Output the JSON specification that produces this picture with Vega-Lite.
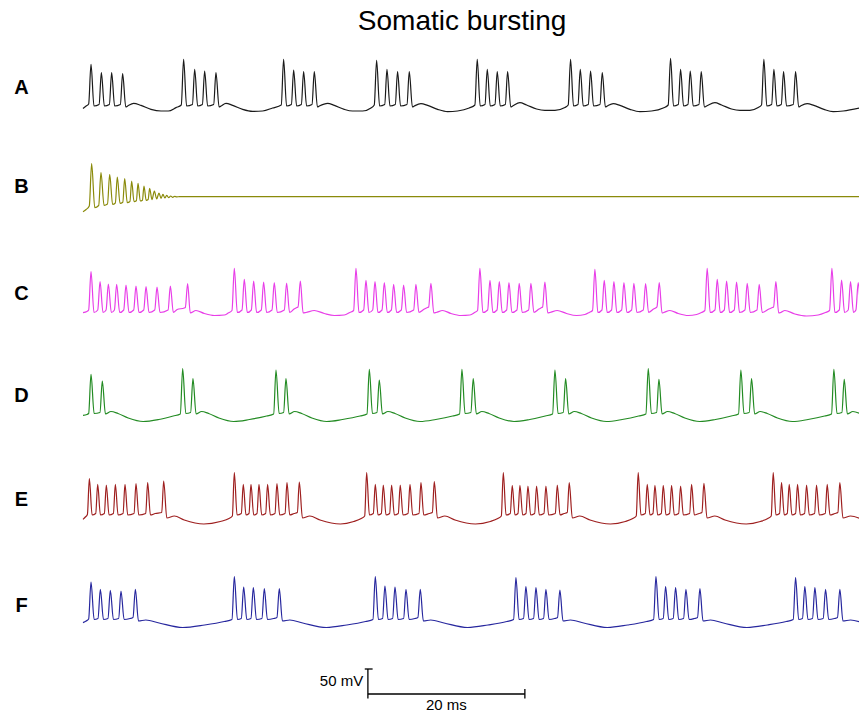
{
"$schema": "https://vega.github.io/schema/vega-lite/v6.json",
"background": "white",
"padding": {"left": 13, "top": 7, "right": 0, "bottom": 0},
"bounds": "flush",
"title": {"text": "Somatic bursting", "fontSize": 28, "font": "Liberation Sans", "fontWeight": "normal", "color": "#000", "anchor": "middle", "dx": 24, "offset": 20},
"config": {
  "view": {"stroke": null},
  "line": {"interpolate": "monotone", "strokeWidth": 1.2},
  "axisY": {"labels": false, "ticks": false, "domain": false, "grid": false, "titleAngle": 0, "titleFontSize": 20, "titleFontWeight": "bold", "titleFont": "Liberation Sans", "titleX": -62, "titleY": 30, "titleAlign": "center", "titleBaseline": "middle", "titleColor": "#000"}
},
"spacing": 43,
"datasets": {
"A": [
{"t":0,"v":-65},{"t":0.4,"v":-60},{"t":0.72,"v":-56},
{"t":1.02,"v":23.3},{"t":1.4,"v":-60},{"t":2.05,"v":-57},{"t":2.34,"v":6.7},{"t":2.72,"v":-60},{"t":3.36,"v":-57},{"t":3.65,"v":6.7},{"t":4.03,"v":-60},{"t":4.76,"v":-57},{"t":5.05,"v":4.7},{"t":5.45,"v":-62},
{"t":5.69,"v":-60},{"t":6.45,"v":-54.7},{"t":7.39,"v":-58.7},{"t":8.66,"v":-66.7},{"t":9.94,"v":-70},{"t":10.87,"v":-70},{"t":11.85,"v":-63.3},{"t":12.52,"v":-58},
{"t":12.82,"v":33.3},{"t":13.2,"v":-60},{"t":13.94,"v":-57},{"t":14.23,"v":13.3},{"t":14.61,"v":-60},{"t":15.21,"v":-57},{"t":15.5,"v":10},{"t":15.88,"v":-60},{"t":16.65,"v":-57},{"t":16.94,"v":6.7},{"t":17.34,"v":-62},
{"t":17.58,"v":-60},{"t":18.22,"v":-54.7},{"t":19.07,"v":-58.7},{"t":20.34,"v":-66.7},{"t":21.61,"v":-70.7},{"t":22.89,"v":-70},{"t":24.16,"v":-64},{"t":25.26,"v":-58},
{"t":25.56,"v":33.3},{"t":25.94,"v":-60},{"t":26.55,"v":-57},{"t":26.84,"v":12},{"t":27.22,"v":-60},{"t":27.82,"v":-57},{"t":28.11,"v":8.7},{"t":28.49,"v":-60},{"t":29.18,"v":-57},{"t":29.47,"v":8.7},{"t":29.87,"v":-62},
{"t":30.11,"v":-60},{"t":31.17,"v":-54.7},{"t":32.02,"v":-58.7},{"t":33.29,"v":-66.7},{"t":34.35,"v":-70},{"t":35.63,"v":-70},{"t":36.69,"v":-64},{"t":37.11,"v":-58},
{"t":37.41,"v":31.3},{"t":37.79,"v":-60},{"t":38.44,"v":-57},{"t":38.73,"v":13.3},{"t":39.11,"v":-60},{"t":39.79,"v":-57},{"t":40.08,"v":8.7},{"t":40.46,"v":-60},{"t":41.28,"v":-57},{"t":41.57,"v":8.7},{"t":41.97,"v":-62},
{"t":42.21,"v":-60},{"t":43.06,"v":-55.3},{"t":43.91,"v":-58.7},{"t":45.18,"v":-66.7},{"t":46.45,"v":-71.3},{"t":47.73,"v":-70},{"t":49.21,"v":-64},{"t":49.93,"v":-58},
{"t":50.23,"v":33.3},{"t":50.61,"v":-60},{"t":51.22,"v":-57},{"t":51.51,"v":13.3},{"t":51.89,"v":-60},{"t":52.49,"v":-57},{"t":52.78,"v":8.7},{"t":53.16,"v":-60},{"t":53.81,"v":-57},{"t":54.1,"v":8.7},{"t":54.5,"v":-62},
{"t":54.74,"v":-60},{"t":55.67,"v":-53.3},{"t":56.52,"v":-58},{"t":57.79,"v":-66},{"t":58.85,"v":-68.7},{"t":60.13,"v":-68.7},{"t":61.4,"v":-63},{"t":61.82,"v":-58},
{"t":62.12,"v":33.3},{"t":62.5,"v":-60},{"t":63.07,"v":-57},{"t":63.36,"v":13.3},{"t":63.74,"v":-60},{"t":64.38,"v":-57},{"t":64.67,"v":10},{"t":65.05,"v":-60},{"t":65.87,"v":-57},{"t":66.16,"v":6.7},{"t":66.56,"v":-62},
{"t":66.8,"v":-60},{"t":67.56,"v":-55.3},{"t":68.41,"v":-58.7},{"t":69.68,"v":-66.7},{"t":70.96,"v":-71.3},{"t":72.44,"v":-70},{"t":73.93,"v":-64},{"t":74.56,"v":-58},
{"t":74.86,"v":35.3},{"t":75.24,"v":-60},{"t":75.85,"v":-57},{"t":76.14,"v":13.3},{"t":76.52,"v":-60},{"t":77.08,"v":-57},{"t":77.37,"v":10},{"t":77.75,"v":-60},{"t":78.48,"v":-57},{"t":78.77,"v":8.7},{"t":79.17,"v":-62},
{"t":79.45,"v":-60},{"t":80.51,"v":-53.3},{"t":81.36,"v":-58},{"t":82.63,"v":-66},{"t":83.7,"v":-68.7},{"t":84.97,"v":-68.7},{"t":86.03,"v":-63},{"t":86.45,"v":-58},
{"t":86.75,"v":33.3},{"t":87.13,"v":-60},{"t":87.74,"v":-57},{"t":88.03,"v":13.3},{"t":88.41,"v":-60},{"t":88.97,"v":-57},{"t":89.26,"v":8.7},{"t":89.64,"v":-60},{"t":90.5,"v":-57},{"t":90.79,"v":8.7},{"t":91.19,"v":-62},
{"t":91.42,"v":-60},{"t":92.27,"v":-55.3},{"t":93.12,"v":-58.7},{"t":94.4,"v":-66.7},{"t":95.58,"v":-71.3},{"t":96.86,"v":-70},{"t":99,"v":-64}
],
"B": [
{"t":0,"v":-65.3},{"t":0.4,"v":-61},{"t":0.8,"v":-54},{"t":1.1,"v":30.7},{"t":1.5,"v":-57.3},{"t":2.0,"v":-53},{"t":2.29,"v":12.7},{"t":2.68,"v":-52.7},{"t":3.12,"v":-50},{"t":3.4,"v":9.3},{"t":3.77,"v":-50.7},{"t":4.12,"v":-48},{"t":4.37,"v":4},{"t":4.72,"v":-48.7},{"t":5.07,"v":-46.5},{"t":5.31,"v":0.7},{"t":5.64,"v":-47.3},{"t":5.98,"v":-45},{"t":6.2,"v":-4},{"t":6.5,"v":-45.3},{"t":6.8,"v":-43.5},{"t":7.01,"v":-8.7},{"t":7.3,"v":-44},{"t":7.57,"v":-42.5},{"t":7.77,"v":-14},{"t":8.05,"v":-42.7},{"t":8.3,"v":-41},{"t":8.49,"v":-18.7},{"t":8.79,"v":-41.3},{"t":9.09,"v":-24},{"t":9.39,"v":-40},{"t":9.68,"v":-28},{"t":9.94,"v":-38.7},{"t":10.19,"v":-30.7},{"t":10.43,"v":-38},{"t":10.66,"v":-32.7},{"t":10.92,"v":-37.3},{"t":11.17,"v":-34},{"t":11.43,"v":-36.7},{"t":11.68,"v":-34.7},{"t":11.95,"v":-35.8},{"t":12.3,"v":-35.3},{"t":99,"v":-35.3}
],
"C": [
{"t":0,"v":-61.3},{"t":0.5,"v":-59},{"t":0.72,"v":-56},
{"t":1.02,"v":20.7},{"t":1.4,"v":-61},{"t":1.88,"v":-56},{"t":2.17,"v":0.7},{"t":2.55,"v":-61},{"t":2.94,"v":-56},{"t":3.23,"v":-4},{"t":3.61,"v":-61},{"t":4.0,"v":-56},{"t":4.29,"v":-4.7},{"t":4.67,"v":-61},{"t":5.19,"v":-56},{"t":5.48,"v":-6},{"t":5.86,"v":-61},{"t":6.46,"v":-56},{"t":6.75,"v":-8},{"t":7.13,"v":-61},{"t":7.74,"v":-56},{"t":8.03,"v":-9.3},{"t":8.41,"v":-61},{"t":9.14,"v":-56},{"t":9.43,"v":-10},{"t":9.81,"v":-61},{"t":10.84,"v":-56},{"t":11.13,"v":-8},{"t":11.51,"v":-61},{"t":12.0,"v":-55},{"t":12.9,"v":-52},{"t":13.04,"v":-51},{"t":13.33,"v":-3.3},{"t":13.67,"v":-62},
{"t":14.39,"v":-57},{"t":15.46,"v":-63},{"t":16.73,"v":-67},{"t":18.0,"v":-66},{"t":18.5,"v":-62},{"t":18.98,"v":-57},
{"t":19.28,"v":27.3},{"t":19.66,"v":-61},{"t":20.26,"v":-56},{"t":20.55,"v":5.3},{"t":20.93,"v":-61},{"t":21.45,"v":-56},{"t":21.74,"v":2},{"t":22.12,"v":-61},{"t":22.72,"v":-56},{"t":23.01,"v":0},{"t":23.39,"v":-61},{"t":24.08,"v":-56},{"t":24.37,"v":-1.3},{"t":24.75,"v":-61},{"t":25.65,"v":-56},{"t":25.94,"v":-2},{"t":26.32,"v":-61},{"t":26.9,"v":-54},{"t":27.25,"v":-51},{"t":27.4,"v":-50},{"t":27.69,"v":2},{"t":28.05,"v":-62},
{"t":28.41,"v":-61},{"t":29.47,"v":-57},{"t":30.74,"v":-63},{"t":32.02,"v":-67},{"t":33.29,"v":-66},{"t":34.0,"v":-61},{"t":34.48,"v":-57},
{"t":34.78,"v":27.3},{"t":35.16,"v":-61},{"t":35.76,"v":-56},{"t":36.05,"v":3.3},{"t":36.43,"v":-61},{"t":36.91,"v":-56},{"t":37.2,"v":0.7},{"t":37.58,"v":-61},{"t":38.1,"v":-56},{"t":38.39,"v":-1.3},{"t":38.77,"v":-61},{"t":39.29,"v":-56},{"t":39.58,"v":-4.7},{"t":39.96,"v":-61},{"t":40.56,"v":-56},{"t":40.85,"v":-6},{"t":41.23,"v":-61},{"t":42.13,"v":-56},{"t":42.42,"v":-4.7},{"t":42.8,"v":-61},{"t":43.5,"v":-54},{"t":43.9,"v":-51},{"t":44.04,"v":-50},{"t":44.33,"v":-2.7},{"t":44.7,"v":-62},
{"t":45.0,"v":-61},{"t":45.82,"v":-57},{"t":46.88,"v":-63},{"t":48.15,"v":-67},{"t":49.3,"v":-66},{"t":49.9,"v":-61},{"t":50.27,"v":-57},
{"t":50.57,"v":27.3},{"t":50.95,"v":-61},{"t":51.56,"v":-56},{"t":51.85,"v":3.3},{"t":52.23,"v":-61},{"t":52.75,"v":-56},{"t":53.04,"v":0.7},{"t":53.42,"v":-61},{"t":53.98,"v":-56},{"t":54.27,"v":-1.3},{"t":54.65,"v":-61},{"t":55.29,"v":-56},{"t":55.58,"v":-2.7},{"t":55.96,"v":-61},{"t":56.78,"v":-56},{"t":57.07,"v":-2.7},{"t":57.45,"v":-61},{"t":58.1,"v":-54},{"t":58.45,"v":-51},{"t":58.56,"v":-50},{"t":58.85,"v":0},{"t":59.22,"v":-62},
{"t":59.5,"v":-61},{"t":60.43,"v":-57},{"t":61.61,"v":-63},{"t":62.89,"v":-67},{"t":63.95,"v":-65},{"t":64.5,"v":-61},{"t":64.92,"v":-57},
{"t":65.22,"v":25.3},{"t":65.6,"v":-61},{"t":66.12,"v":-56},{"t":66.41,"v":3.3},{"t":66.79,"v":-61},{"t":67.35,"v":-56},{"t":67.64,"v":0.7},{"t":68.02,"v":-61},{"t":68.63,"v":-56},{"t":68.92,"v":-1.3},{"t":69.3,"v":-61},{"t":69.9,"v":-56},{"t":70.19,"v":-2.7},{"t":70.57,"v":-61},{"t":71.39,"v":-56},{"t":71.68,"v":-3.3},{"t":72.06,"v":-61},{"t":72.7,"v":-54},{"t":73.05,"v":-51},{"t":73.13,"v":-50},{"t":73.42,"v":-1.3},{"t":73.78,"v":-62},
{"t":74.0,"v":-61},{"t":74.78,"v":-57},{"t":75.84,"v":-63},{"t":77.11,"v":-67},{"t":78.18,"v":-65},{"t":78.8,"v":-61},{"t":79.23,"v":-57},
{"t":79.53,"v":27.3},{"t":79.91,"v":-61},{"t":80.52,"v":-56},{"t":80.81,"v":5.3},{"t":81.19,"v":-61},{"t":81.71,"v":-56},{"t":82.0,"v":2},{"t":82.38,"v":-61},{"t":82.98,"v":-56},{"t":83.27,"v":0},{"t":83.65,"v":-61},{"t":84.34,"v":-56},{"t":84.63,"v":-2.7},{"t":85.01,"v":-61},{"t":85.87,"v":-56},{"t":86.16,"v":-4.7},{"t":86.54,"v":-61},{"t":87.4,"v":-54},{"t":87.85,"v":-51},{"t":87.99,"v":-50},{"t":88.28,"v":0.7},{"t":88.64,"v":-62},
{"t":88.9,"v":-61},{"t":89.43,"v":-57},{"t":90.7,"v":-64},{"t":92.19,"v":-68},{"t":93.67,"v":-66},{"t":94.6,"v":-61},{"t":95.12,"v":-57},
{"t":95.42,"v":27.3},{"t":95.8,"v":-61},{"t":96.36,"v":-56},{"t":96.65,"v":4},{"t":97.03,"v":-61},{"t":97.5,"v":-56},{"t":97.79,"v":0.7},{"t":98.17,"v":-61},{"t":98.48,"v":-56},{"t":98.77,"v":-1.3},{"t":99,"v":-40}
],
"D": [
{"t":0,"v":-60.7},{"t":0.5,"v":-59},{"t":0.72,"v":-57},
{"t":1.02,"v":21.3},{"t":1.42,"v":-57},{"t":2.16,"v":-55},{"t":2.46,"v":8},{"t":2.86,"v":-58},{"t":3.56,"v":-53},{"t":4.46,"v":-57},{"t":5.76,"v":-66},{"t":7.66,"v":-73},{"t":9.66,"v":-69},{"t":11.5,"v":-62},{"t":12.4,"v":-58},
{"t":12.7,"v":32.7},{"t":13.1,"v":-57},{"t":13.71,"v":-55},{"t":14.01,"v":12.7},{"t":14.41,"v":-58},{"t":15.11,"v":-53},{"t":16.01,"v":-57},{"t":17.31,"v":-66},{"t":19.21,"v":-73},{"t":21.21,"v":-69},{"t":23.4,"v":-62},{"t":24.29,"v":-58},
{"t":24.59,"v":30},{"t":24.99,"v":-57},{"t":25.56,"v":-55},{"t":25.86,"v":12.7},{"t":26.26,"v":-58},{"t":26.96,"v":-53},{"t":27.86,"v":-57},{"t":29.16,"v":-66},{"t":31.06,"v":-73},{"t":33.06,"v":-69},{"t":35.3,"v":-62},{"t":36.18,"v":-58},
{"t":36.48,"v":31.3},{"t":36.88,"v":-57},{"t":37.45,"v":-55},{"t":37.75,"v":10},{"t":38.15,"v":-58},{"t":38.85,"v":-53},{"t":39.75,"v":-57},{"t":41.05,"v":-66},{"t":42.95,"v":-73},{"t":44.95,"v":-69},{"t":47.1,"v":-62},{"t":47.98,"v":-58},
{"t":48.28,"v":31.3},{"t":48.68,"v":-57},{"t":49.42,"v":-55},{"t":49.72,"v":12.7},{"t":50.12,"v":-58},{"t":50.82,"v":-53},{"t":51.72,"v":-57},{"t":53.02,"v":-66},{"t":54.92,"v":-73},{"t":56.92,"v":-69},{"t":58.9,"v":-62},{"t":59.83,"v":-58},
{"t":60.13,"v":30},{"t":60.53,"v":-57},{"t":61.19,"v":-55},{"t":61.49,"v":12.7},{"t":61.89,"v":-58},{"t":62.59,"v":-53},{"t":63.49,"v":-57},{"t":64.79,"v":-66},{"t":66.69,"v":-73},{"t":68.69,"v":-69},{"t":70.8,"v":-62},{"t":71.72,"v":-58},
{"t":72.02,"v":32.7},{"t":72.42,"v":-57},{"t":73.08,"v":-55},{"t":73.38,"v":11.3},{"t":73.78,"v":-58},{"t":74.48,"v":-53},{"t":75.38,"v":-57},{"t":76.68,"v":-66},{"t":78.58,"v":-73},{"t":80.58,"v":-69},{"t":82.6,"v":-62},{"t":83.52,"v":-58},
{"t":83.82,"v":30},{"t":84.22,"v":-57},{"t":84.88,"v":-55},{"t":85.18,"v":12.7},{"t":85.58,"v":-58},{"t":86.28,"v":-53},{"t":87.18,"v":-57},{"t":88.48,"v":-66},{"t":90.38,"v":-73},{"t":92.38,"v":-69},{"t":94.5,"v":-62},{"t":95.37,"v":-58},
{"t":95.67,"v":31.3},{"t":96.07,"v":-57},{"t":96.69,"v":-55},{"t":96.99,"v":11.3},{"t":97.39,"v":-58},{"t":98.09,"v":-53},{"t":99,"v":-57}
],
"E": [
{"t":0,"v":-62.7},{"t":0.3,"v":-58},{"t":0.56,"v":-53},
{"t":0.81,"v":18.7},{"t":1.16,"v":-54},{"t":1.62,"v":-51},{"t":1.87,"v":7.3},{"t":2.22,"v":-54},{"t":2.72,"v":-51},{"t":2.97,"v":6},{"t":3.32,"v":-54},{"t":3.87,"v":-51},{"t":4.12,"v":7.3},{"t":4.47,"v":-54},{"t":5.1,"v":-51},{"t":5.35,"v":7.3},{"t":5.7,"v":-54},{"t":6.5,"v":-51},{"t":6.75,"v":8.7},{"t":7.1,"v":-54},{"t":7.99,"v":-51},{"t":8.24,"v":10.7},{"t":8.59,"v":-54},{"t":9.2,"v":-51},{"t":10.03,"v":-49},{"t":10.28,"v":14},{"t":10.68,"v":-60},
{"t":11.64,"v":-56},{"t":12.9,"v":-64},{"t":15.4,"v":-72},{"t":17.5,"v":-67},{"t":18.6,"v":-61},{"t":19.03,"v":-56},
{"t":19.28,"v":30.7},{"t":19.63,"v":-54},{"t":20.17,"v":-51},{"t":20.42,"v":7.3},{"t":20.77,"v":-54},{"t":21.15,"v":-51},{"t":21.4,"v":7.3},{"t":21.75,"v":-54},{"t":22.17,"v":-51},{"t":22.42,"v":7.3},{"t":22.77,"v":-54},{"t":23.27,"v":-51},{"t":23.52,"v":7.3},{"t":23.87,"v":-54},{"t":24.46,"v":-51},{"t":24.71,"v":8.7},{"t":25.06,"v":-54},{"t":25.74,"v":-51},{"t":25.99,"v":10.7},{"t":26.34,"v":-54},{"t":26.9,"v":-51},{"t":27.31,"v":-49},{"t":27.56,"v":12},{"t":27.96,"v":-60},
{"t":28.9,"v":-56},{"t":30.2,"v":-64},{"t":32.8,"v":-72},{"t":34.5,"v":-67},{"t":35.45,"v":-61},{"t":35.89,"v":-56},
{"t":36.14,"v":30.7},{"t":36.49,"v":-54},{"t":36.99,"v":-51},{"t":37.24,"v":7.3},{"t":37.59,"v":-54},{"t":38.01,"v":-51},{"t":38.26,"v":6},{"t":38.61,"v":-54},{"t":39.07,"v":-51},{"t":39.32,"v":6},{"t":39.67,"v":-54},{"t":40.17,"v":-51},{"t":40.42,"v":6},{"t":40.77,"v":-54},{"t":41.41,"v":-51},{"t":41.66,"v":7.3},{"t":42.01,"v":-54},{"t":42.81,"v":-51},{"t":43.06,"v":10.7},{"t":43.41,"v":-54},{"t":44.1,"v":-51},{"t":44.51,"v":-49},{"t":44.76,"v":12.7},{"t":45.16,"v":-60},
{"t":46.1,"v":-56},{"t":47.4,"v":-64},{"t":50.0,"v":-72},{"t":51.9,"v":-67},{"t":52.85,"v":-61},{"t":53.3,"v":-56},
{"t":53.55,"v":30.7},{"t":53.9,"v":-54},{"t":54.44,"v":-51},{"t":54.69,"v":5.3},{"t":55.04,"v":-54},{"t":55.42,"v":-51},{"t":55.67,"v":5.3},{"t":56.02,"v":-54},{"t":56.44,"v":-51},{"t":56.69,"v":4},{"t":57.04,"v":-54},{"t":57.54,"v":-51},{"t":57.79,"v":4},{"t":58.14,"v":-54},{"t":58.73,"v":-51},{"t":58.98,"v":4},{"t":59.33,"v":-54},{"t":60.18,"v":-51},{"t":60.43,"v":6},{"t":60.78,"v":-54},{"t":61.3,"v":-51},{"t":61.7,"v":-49},{"t":61.95,"v":10.7},{"t":62.35,"v":-60},
{"t":63.3,"v":-56},{"t":64.6,"v":-64},{"t":67.2,"v":-72},{"t":69.1,"v":-67},{"t":70.05,"v":-61},{"t":70.49,"v":-56},
{"t":70.74,"v":30.7},{"t":71.09,"v":-54},{"t":71.64,"v":-51},{"t":71.89,"v":7.3},{"t":72.24,"v":-54},{"t":72.62,"v":-51},{"t":72.87,"v":5.3},{"t":73.22,"v":-54},{"t":73.68,"v":-51},{"t":73.93,"v":5.3},{"t":74.28,"v":-54},{"t":74.74,"v":-51},{"t":74.99,"v":5.3},{"t":75.34,"v":-54},{"t":75.89,"v":-51},{"t":76.14,"v":4},{"t":76.49,"v":-54},{"t":77.29,"v":-51},{"t":77.54,"v":7.3},{"t":77.89,"v":-54},{"t":78.5,"v":-51},{"t":78.86,"v":-49},{"t":79.11,"v":9.3},{"t":79.51,"v":-60},
{"t":80.5,"v":-56},{"t":81.8,"v":-64},{"t":84.5,"v":-72},{"t":86.3,"v":-67},{"t":87.25,"v":-61},{"t":87.69,"v":-56},
{"t":87.94,"v":30.7},{"t":88.29,"v":-54},{"t":88.75,"v":-51},{"t":89.0,"v":10.7},{"t":89.35,"v":-54},{"t":89.73,"v":-51},{"t":89.98,"v":7.3},{"t":90.33,"v":-54},{"t":90.79,"v":-51},{"t":91.04,"v":7.3},{"t":91.39,"v":-54},{"t":91.94,"v":-51},{"t":92.19,"v":6},{"t":92.54,"v":-54},{"t":93.21,"v":-51},{"t":93.46,"v":6},{"t":93.81,"v":-54},{"t":94.57,"v":-51},{"t":94.82,"v":7.3},{"t":95.17,"v":-54},{"t":95.8,"v":-51},{"t":96.18,"v":-49},{"t":96.43,"v":10.7},{"t":96.83,"v":-60},
{"t":97.8,"v":-56},{"t":99,"v":-61}
],
"F": [
{"t":0,"v":-63.3},{"t":0.4,"v":-60},{"t":0.72,"v":-56},
{"t":1.02,"v":18},{"t":1.42,"v":-57},{"t":1.91,"v":-55},{"t":2.21,"v":3.3},{"t":2.61,"v":-57},{"t":3.18,"v":-55},{"t":3.48,"v":1.3},{"t":3.88,"v":-57},{"t":4.54,"v":-55},{"t":4.84,"v":0},{"t":5.24,"v":-57},{"t":6.0,"v":-55},{"t":6.37,"v":-53},{"t":6.67,"v":3.3},{"t":7.07,"v":-60},
{"t":8.0,"v":-58},{"t":9.7,"v":-64},{"t":12.7,"v":-73},{"t":15.5,"v":-68},{"t":18.0,"v":-61},{"t":18.98,"v":-57},
{"t":19.28,"v":28.7},{"t":19.68,"v":-57},{"t":20.17,"v":-55},{"t":20.47,"v":8},{"t":20.87,"v":-57},{"t":21.4,"v":-55},{"t":21.7,"v":6.7},{"t":22.1,"v":-57},{"t":22.8,"v":-55},{"t":23.1,"v":4.7},{"t":23.5,"v":-57},{"t":24.3,"v":-55},{"t":24.71,"v":-53},{"t":25.01,"v":4.7},{"t":25.41,"v":-60},
{"t":26.35,"v":-58},{"t":28.0,"v":-64},{"t":31.0,"v":-73},{"t":33.6,"v":-68},{"t":36.0,"v":-61},{"t":36.94,"v":-57},
{"t":37.24,"v":28.7},{"t":37.64,"v":-57},{"t":38.17,"v":-55},{"t":38.47,"v":10},{"t":38.87,"v":-57},{"t":39.45,"v":-55},{"t":39.75,"v":8},{"t":40.15,"v":-57},{"t":40.85,"v":-55},{"t":41.15,"v":3.3},{"t":41.55,"v":-57},{"t":42.3,"v":-55},{"t":42.67,"v":-53},{"t":42.97,"v":3.3},{"t":43.37,"v":-60},
{"t":44.3,"v":-58},{"t":46.0,"v":-64},{"t":49.0,"v":-73},{"t":51.6,"v":-68},{"t":54.0,"v":-61},{"t":54.86,"v":-57},
{"t":55.16,"v":26.7},{"t":55.56,"v":-57},{"t":56.13,"v":-55},{"t":56.43,"v":8.7},{"t":56.83,"v":-57},{"t":57.41,"v":-55},{"t":57.71,"v":6.7},{"t":58.11,"v":-57},{"t":58.68,"v":-55},{"t":58.98,"v":3.3},{"t":59.38,"v":-57},{"t":60.1,"v":-55},{"t":60.46,"v":-53},{"t":60.76,"v":2},{"t":61.16,"v":-60},
{"t":62.1,"v":-58},{"t":63.8,"v":-64},{"t":66.8,"v":-73},{"t":69.4,"v":-68},{"t":71.8,"v":-61},{"t":72.7,"v":-57},
{"t":73.0,"v":28.7},{"t":73.4,"v":-57},{"t":73.93,"v":-55},{"t":74.23,"v":8.7},{"t":74.63,"v":-57},{"t":75.2,"v":-55},{"t":75.5,"v":6.7},{"t":75.9,"v":-57},{"t":76.52,"v":-55},{"t":76.82,"v":3.3},{"t":77.22,"v":-57},{"t":77.9,"v":-55},{"t":78.3,"v":-53},{"t":78.6,"v":4.7},{"t":79.0,"v":-60},
{"t":79.95,"v":-58},{"t":81.6,"v":-64},{"t":84.6,"v":-73},{"t":87.2,"v":-68},{"t":89.6,"v":-61},{"t":90.49,"v":-57},
{"t":90.79,"v":26.7},{"t":91.19,"v":-57},{"t":91.67,"v":-55},{"t":91.97,"v":8.7},{"t":92.37,"v":-57},{"t":92.95,"v":-55},{"t":93.25,"v":6.7},{"t":93.65,"v":-57},{"t":94.31,"v":-55},{"t":94.61,"v":3.3},{"t":95.01,"v":-57},{"t":95.75,"v":-55},{"t":96.13,"v":-53},{"t":96.43,"v":3.3},{"t":96.83,"v":-60},
{"t":97.8,"v":-58},{"t":99,"v":-62}
],
"bar": [
{"t":36.3,"t2":36.3,"v":11,"v2":70},
{"t":35.9,"t2":36.9,"v":70,"v2":70},
{"t":36.3,"t2":56.3,"v":20,"v2":20},
{"t":56.3,"t2":56.3,"v":11,"v2":30}
]
},
"vconcat": [
{"width": 777, "height": 60, "data": {"name": "A"}, "mark": {"type": "line", "color": "#1a1a1a"},
 "encoding": {"x": {"field": "t", "type": "quantitative", "scale": {"domain": [0, 99], "nice": false, "zero": false}, "axis": null},
  "y": {"field": "v", "type": "quantitative", "scale": {"domain": [-80, 40], "nice": false, "zero": false}, "axis": {"title": "A", "titleY": 31}}}},
{"width": 777, "height": 60, "data": {"name": "B"}, "mark": {"type": "line", "color": "#8a8a0a"},
 "encoding": {"x": {"field": "t", "type": "quantitative", "scale": {"domain": [0, 99], "nice": false, "zero": false}, "axis": null},
  "y": {"field": "v", "type": "quantitative", "scale": {"domain": [-80, 40], "nice": false, "zero": false}, "axis": {"title": "B", "titleY": 27}}}},
{"width": 777, "height": 60, "data": {"name": "C"}, "mark": {"type": "line", "color": "#e83ee8"},
 "encoding": {"x": {"field": "t", "type": "quantitative", "scale": {"domain": [0, 99], "nice": false, "zero": false}, "axis": null},
  "y": {"field": "v", "type": "quantitative", "scale": {"domain": [-80, 40], "nice": false, "zero": false}, "axis": {"title": "C", "titleY": 31}}}},
{"width": 777, "height": 60, "data": {"name": "D"}, "mark": {"type": "line", "color": "#238b23"},
 "encoding": {"x": {"field": "t", "type": "quantitative", "scale": {"domain": [0, 99], "nice": false, "zero": false}, "axis": null},
  "y": {"field": "v", "type": "quantitative", "scale": {"domain": [-80, 40], "nice": false, "zero": false}, "axis": {"title": "D", "titleY": 30}}}},
{"width": 777, "height": 60, "data": {"name": "E"}, "mark": {"type": "line", "color": "#9e1f1f"},
 "encoding": {"x": {"field": "t", "type": "quantitative", "scale": {"domain": [0, 99], "nice": false, "zero": false}, "axis": null},
  "y": {"field": "v", "type": "quantitative", "scale": {"domain": [-80, 40], "nice": false, "zero": false}, "axis": {"title": "E", "titleY": 31}}}},
{"width": 777, "height": 60, "data": {"name": "F"}, "mark": {"type": "line", "color": "#27279e"},
 "encoding": {"x": {"field": "t", "type": "quantitative", "scale": {"domain": [0, 99], "nice": false, "zero": false}, "axis": null},
  "y": {"field": "v", "type": "quantitative", "scale": {"domain": [-80, 40], "nice": false, "zero": false}, "axis": {"title": "F", "titleY": 34}}}},
{"width": 777, "height": 30,
 "layer": [
  {"data": {"name": "bar"}, "mark": {"type": "rule", "color": "#000", "strokeWidth": 1.3},
   "encoding": {"x": {"field": "t", "type": "quantitative", "scale": {"domain": [0, 99], "nice": false, "zero": false}, "axis": null},
    "x2": {"field": "t2"},
    "y": {"field": "v", "type": "quantitative", "scale": {"domain": [0, 60], "nice": false, "zero": false}, "axis": null},
    "y2": {"field": "v2"}}},
  {"data": {"values": [{"t": 35.7, "v": 46, "txt": "50 mV"}]}, "mark": {"type": "text", "align": "right", "baseline": "middle", "fontSize": 15, "font": "Liberation Sans", "color": "#000"},
   "encoding": {"x": {"field": "t", "type": "quantitative"}, "y": {"field": "v", "type": "quantitative"}, "text": {"field": "txt"}}},
  {"data": {"values": [{"t": 46.3, "v": -11, "txt": "20 ms"}]}, "mark": {"type": "text", "align": "center", "baseline": "alphabetic", "fontSize": 15, "font": "Liberation Sans", "color": "#000"},
   "encoding": {"x": {"field": "t", "type": "quantitative"}, "y": {"field": "v", "type": "quantitative"}, "text": {"field": "txt"}}}
 ]}
]
}
